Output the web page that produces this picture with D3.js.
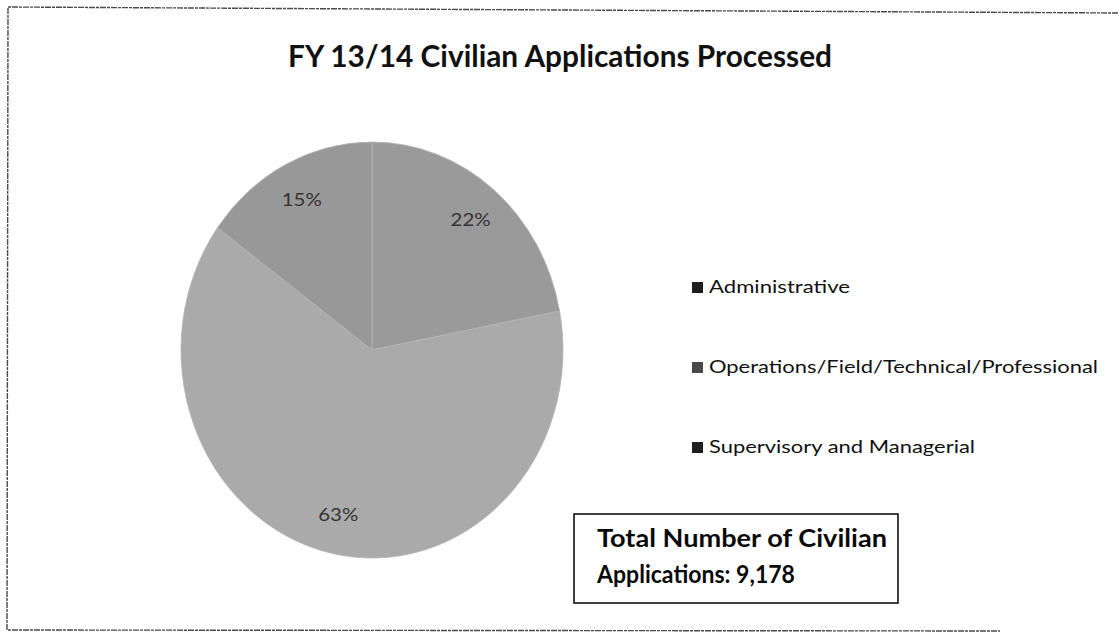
<!DOCTYPE html>
<html>
<head>
<meta charset="utf-8">
<script src="https://cdn.jsdelivr.net/npm/d3@7"></script>
<style>
  body { margin: 0; background: #fff; }
  svg { display: block; font-family: Lato, "Open Sans", sans-serif; }
</style>
</head>
<body>
<svg id="chart"></svg>
<script>
// data
const categories = ["Administrative", "Operations/Field/Technical/Professional", "Supervisory and Managerial"];
const shares = [22, 63, 15];
const sliceColors = ["#9a9a9a", "#aaaaaa", "#989898"];
const markerColors = ["#1e1e1e", "#4a4a4a", "#1e1e1e"];
const legendWidths = [141, 389, 266];
const title = "FY 13/14 Civilian Applications Processed";
const totalLines = ["Total Number of Civilian", "Applications: 9,178"];
const totalWidths = [290, 198];

const width = 1119, height = 633;
const svg = d3.select("#chart").attr("width", width).attr("height", height);

// scanned frame (slightly skewed, no right edge)
svg.append("path")
    .attr("d", "M1118,13 L8,7 L7,630 L1000,631")
    .attr("fill", "none")
    .attr("stroke", "#4a4a4a")
    .attr("stroke-width", 1.4)
    .attr("stroke-dasharray", "6,1,3,1");

svg.append("text")
    .attr("x", 560)
    .attr("y", 67)
    .attr("text-anchor", "middle")
    .attr("font-size", 30)
    .attr("font-weight", "bold")
    .attr("fill", "#111")
    .attr("textLength", 544)
    .attr("lengthAdjust", "spacingAndGlyphs")
    .text(title);

// pie, stretched a bit vertically like the scan
const cx = 372, cy = 350, rx = 191, ry = 208;
const pie = d3.pie().sort(null).value(d => d)(shares);
const arc = d3.arc().innerRadius(0).outerRadius(rx);
const labelArc = d3.arc().innerRadius(rx * 0.81).outerRadius(rx * 0.81);

const g = svg.append("g")
    .attr("transform", `translate(${cx},${cy}) scale(1,${ry / rx})`);

g.selectAll("path")
    .data(pie)
    .enter()
    .append("path")
    .attr("d", arc)
    .attr("fill", (d, i) => sliceColors[i])
    .attr("stroke", "#b4b4b4")
    .attr("stroke-width", 0.8);

svg.selectAll("text.pct")
    .data(pie)
    .enter()
    .append("text")
    .attr("class", "pct")
    .attr("x", d => cx + labelArc.centroid(d)[0])
    .attr("y", d => cy + labelArc.centroid(d)[1] * ry / rx)
    .attr("dy", "0.35em")
    .attr("text-anchor", "middle")
    .attr("font-size", 18)
    .attr("fill", "#333")
    .attr("textLength", 40)
    .attr("lengthAdjust", "spacingAndGlyphs")
    .text(d => d.data + "%");

// legend
const legendY = d3.scalePoint().domain(categories).range([287, 447]);
const legend = svg.selectAll("g.legend")
    .data(categories)
    .enter()
    .append("g")
    .attr("class", "legend")
    .attr("transform", d => `translate(692,${legendY(d)})`);

legend.append("rect")
    .attr("x", 0)
    .attr("y", -5)
    .attr("width", 11)
    .attr("height", 11)
    .attr("fill", (d, i) => markerColors[i]);

legend.append("text")
    .attr("x", 17)
    .attr("y", 0)
    .attr("dy", "0.36em")
    .attr("font-size", 18)
    .attr("fill", "#111")
    .attr("textLength", (d, i) => legendWidths[i])
    .attr("lengthAdjust", "spacingAndGlyphs")
    .text(d => d);

// total box
svg.append("rect")
    .attr("x", 574)
    .attr("y", 514)
    .attr("width", 324)
    .attr("height", 89)
    .attr("fill", "#fff")
    .attr("stroke", "#111")
    .attr("stroke-width", 1.6);

svg.selectAll("text.total")
    .data(totalLines)
    .enter()
    .append("text")
    .attr("class", "total")
    .attr("x", 597)
    .attr("y", (d, i) => 547 + i * 36)
    .attr("font-size", 24)
    .attr("font-weight", "bold")
    .attr("fill", "#0a0a0a")
    .attr("textLength", (d, i) => totalWidths[i])
    .attr("lengthAdjust", "spacingAndGlyphs")
    .text(d => d);
</script>
</body>
</html>
